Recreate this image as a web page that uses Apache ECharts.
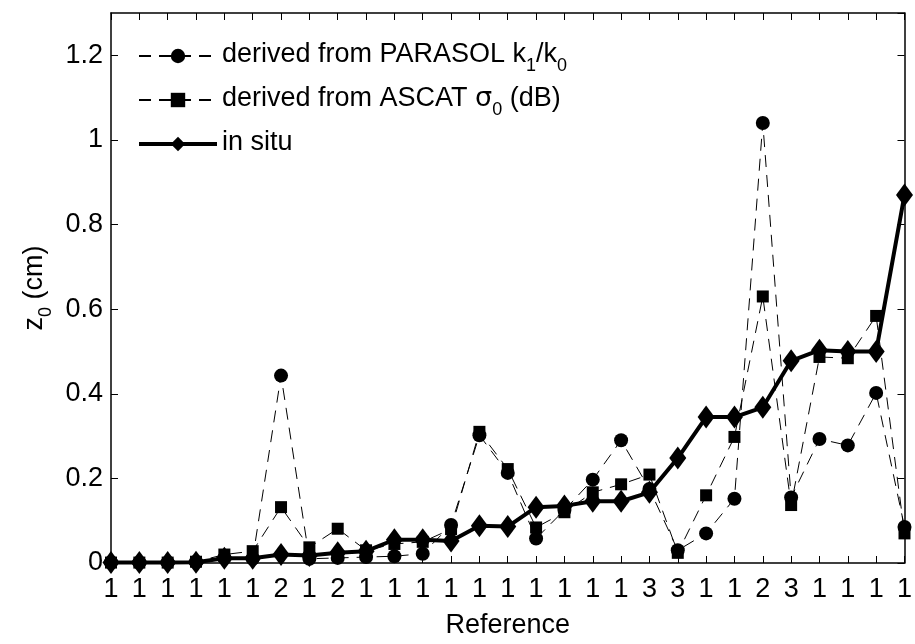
<!DOCTYPE html>
<html>
<head>
<meta charset="utf-8">
<script src="https://cdn.jsdelivr.net/npm/echarts@6/dist/echarts.min.js"></script>
<style>
html,body{margin:0;padding:0;background:#fff;}
#chart{width:915px;height:644px;}
</style>
</head>
<body>
<div id="chart"></div>
<script>
const refLabels = ['1','1','1','1','1','1','2','1','2','1','1','1','1','1','1','1','1','1','1','3','3','1','1','2','3','1','1','1','1'];
const parasol = [0.002,0.001,0.001,0.003,0.012,0.010,0.443,0.010,0.012,0.014,0.016,0.022,0.090,0.302,0.213,0.058,0.125,0.197,0.290,0.175,0.030,0.070,0.152,1.040,0.155,0.293,0.278,0.402,0.085];
const ascat   = [0.001,0.001,0.001,0.003,0.020,0.028,0.132,0.037,0.081,0.030,0.045,0.050,0.080,0.310,0.222,0.084,0.120,0.167,0.186,0.209,0.024,0.160,0.298,0.630,0.137,0.487,0.484,0.584,0.070];
const insitu  = [0.001,0.001,0.001,0.002,0.011,0.011,0.020,0.018,0.024,0.028,0.055,0.055,0.052,0.088,0.086,0.132,0.135,0.146,0.146,0.167,0.248,0.345,0.345,0.368,0.478,0.503,0.500,0.500,0.870];
const yTicks = [0, 0.2, 0.4, 0.6, 0.8, 1, 1.2];

const FONT = 'Liberation Sans, Arial, Helvetica, sans-serif';
const toPts = arr => arr.map((v, i) => [i, v]);
const chart = echarts.init(document.getElementById('chart'));

const legendNames = {
  parasol: '{t|derived from PARASOL k}{s|1}{t|/k}{s|0}',
  ascat: '{t|derived from ASCAT }{g|σ}{s|0}{t| (dB)}',
  insitu: '{t|in situ}'
};
const rich = {
  t: {fontSize: 27, fontFamily: FONT, color: '#000', lineHeight: 30, verticalAlign: 'top', padding: [0,0,6,0]},
  g: {fontSize: 27, fontFamily: 'DejaVu Sans, ' + FONT, color: '#000', lineHeight: 30, verticalAlign: 'top', padding: [0,0,6,0]},
  s: {fontSize: 18, fontFamily: FONT, color: '#000', lineHeight: 20, verticalAlign: 'top', padding: [16,0,0,0]}
};

const xCommon = {
  type: 'value', min: 0, max: 28, interval: 1,
  axisLine: {show: true, onZero: false, lineStyle: {color: '#000', width: 1.5}},
  axisTick: {show: true, inside: true, length: 7, lineStyle: {color: '#000', width: 1}},
  splitLine: {show: false}
};
const yCommon = {
  type: 'value', min: 0, max: 1.3, interval: 0.2,
  axisLine: {show: true, onZero: false, lineStyle: {color: '#000', width: 1.5}},
  axisTick: {show: true, inside: true, length: 7, lineStyle: {color: '#000', width: 1}},
  splitLine: {show: false}
};

const option = {
  animation: false,
  backgroundColor: '#fff',
  grid: {left: 111, right: 7, top: 13, bottom: 72, containLabel: false},
  legend: {
    orient: 'vertical', left: 132, top: 36,
    itemWidth: 78, itemHeight: 18, itemGap: 10,
    data: [
      {name: 'parasol'},
      {name: 'ascat'},
      {name: 'insitu', lineStyle: {width: 4}}
    ],
    formatter: n => legendNames[n],
    textStyle: {fontSize: 27, fontFamily: FONT, color: '#000', rich: rich}
  },
  xAxis: [
    Object.assign({}, xCommon, {
      position: 'bottom',
      name: 'Reference', nameLocation: 'middle', nameGap: 49,
      nameTextStyle: {fontSize: 27, fontFamily: FONT, color: '#000'},
      axisLabel: {show: true, margin: 13, fontSize: 27, fontFamily: FONT, color: '#000',
        formatter: v => refLabels[Math.round(v)] || ''}
    }),
    Object.assign({}, xCommon, {position: 'top', axisLabel: {show: false}})
  ],
  yAxis: [
    Object.assign({}, yCommon, {
      position: 'left',
      name: '{t|z}{s|0}{t| (cm)}', nameLocation: 'middle', nameGap: 60, nameRotate: 90,
      nameTextStyle: {fontSize: 27, fontFamily: FONT, color: '#000', rich: {
        t: {fontSize: 27, fontFamily: FONT, color: '#000', lineHeight: 30, verticalAlign: 'top', padding: [0,0,6,0]},
        s: {fontSize: 18, fontFamily: FONT, color: '#000', lineHeight: 20, verticalAlign: 'top', padding: [16,0,0,0]}
      }},
      axisLabel: {show: true, margin: 8, fontSize: 27, fontFamily: FONT, color: '#000',
        showMaxLabel: false,
        formatter: v => yTicks.some(t => Math.abs(t - v) < 1e-6) ? String(+v.toFixed(1)) : ''}
    }),
    Object.assign({}, yCommon, {position: 'right', axisLabel: {show: false}})
  ],
  series: [
    {
      name: 'ascat', type: 'line', data: toPts(ascat), xAxisIndex: 0, yAxisIndex: 0,
      symbol: 'rect', symbolSize: 12, showAllSymbol: true, clip: false,
      lineStyle: {color: '#000', width: 1, type: [12, 8]},
      itemStyle: {color: '#000'}, z: 2
    },
    {
      name: 'parasol', type: 'line', data: toPts(parasol), xAxisIndex: 0, yAxisIndex: 0,
      symbol: 'circle', symbolSize: 14, showAllSymbol: true, clip: false,
      lineStyle: {color: '#000', width: 1, type: [12, 8]},
      itemStyle: {color: '#000'}, z: 3
    },
    {
      name: 'insitu', type: 'line', data: toPts(insitu), xAxisIndex: 0, yAxisIndex: 0,
      symbol: 'diamond', symbolSize: [17, 23], showAllSymbol: true, clip: false,
      lineStyle: {color: '#000', width: 4},
      itemStyle: {color: '#000'}, z: 4
    }
  ]
};
chart.setOption(option);
</script>
</body>
</html>
